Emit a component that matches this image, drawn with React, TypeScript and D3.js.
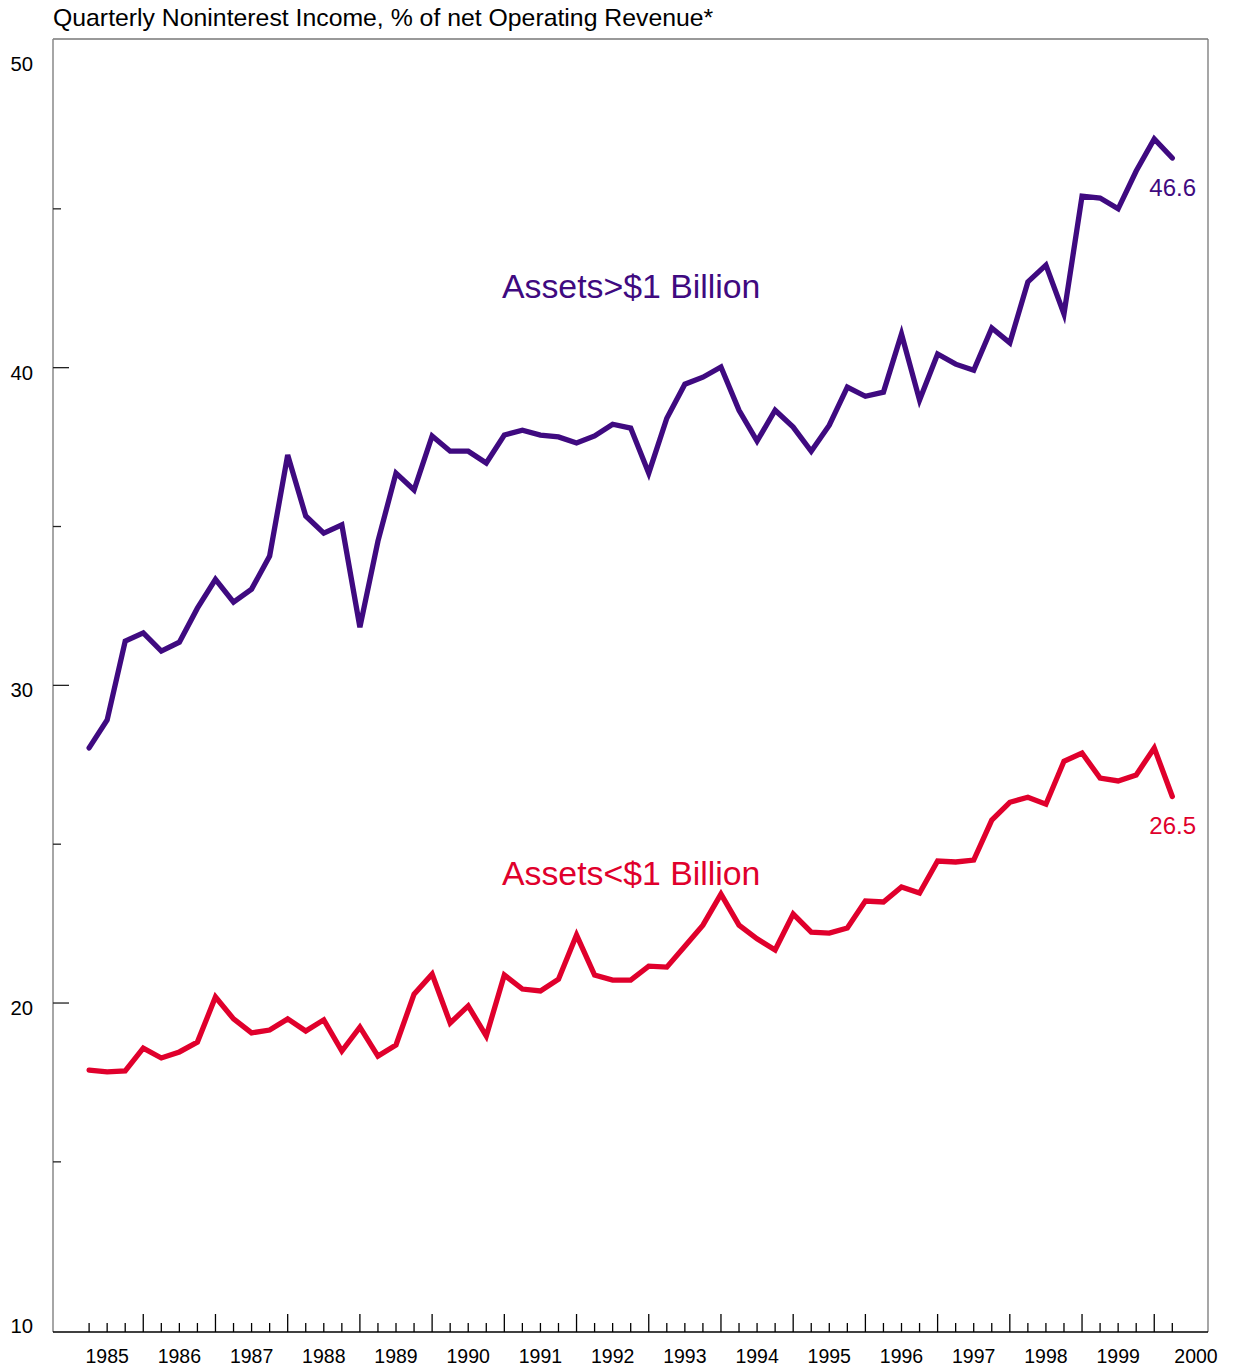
import React from "react";
import * as d3 from "d3";

const years = [1985, 1986, 1987, 1988, 1989, 1990, 1991, 1992, 1993, 1994, 1995, 1996, 1997, 1998, 1999, 2000];
const yTicksMajor = [10, 20, 30, 40, 50];
const yTicksMinor = [15, 25, 35, 45];

// Quarterly values, 1985Q1 .. 2000Q1
const largeBanks = [
  28.03, 28.91, 31.39, 31.65, 31.08, 31.36, 32.43, 33.34, 32.62, 33.03,
  34.07, 37.25, 35.33, 34.79, 35.05, 31.83, 34.54, 36.68, 36.15, 37.85,
  37.37, 37.37, 37.0, 37.88, 38.03, 37.88, 37.82, 37.63, 37.85, 38.22,
  38.1, 36.68, 38.41, 39.48, 39.7, 40.02, 38.66, 37.69, 38.66, 38.13,
  37.37, 38.19, 39.39, 39.1, 39.23, 41.06, 38.98, 40.43, 40.11, 39.92,
  41.25, 40.78, 42.7, 43.23, 41.69, 45.4, 45.34, 45.0, 46.19, 47.2, 46.6,
];
const smallBanks = [
  17.89, 17.83, 17.86, 18.58, 18.27, 18.46, 18.77, 20.19, 19.5, 19.06,
  19.15, 19.5, 19.12, 19.47, 18.49, 19.24, 18.33, 18.68, 20.28, 20.91,
  19.37, 19.91, 18.96, 20.88, 20.44, 20.38, 20.75, 22.14, 20.88, 20.72,
  20.72, 21.16, 21.13, 21.79, 22.45, 23.43, 22.45, 22.02, 21.67, 22.8,
  22.23, 22.2, 22.36, 23.21, 23.18, 23.65, 23.46, 24.47, 24.44, 24.5,
  25.76, 26.32, 26.48, 26.26, 27.61, 27.87, 27.08, 26.99, 27.18, 28.03, 26.5,
];

const PURPLE = "#3f0a80";
const RED = "#e0002c";
const FONT = "'Liberation Sans', Arial, Helvetica, sans-serif";

export default function App() {
  const W = 1234;
  const H = 1369;
  const left = 53;
  const right = 1208;
  const top = 39;
  const bottom = 1332;

  const x = d3.scaleLinear().domain([0, 60]).range([89.1, 1172.3]);
  const y = d3.scaleLinear().domain([10, 50]).range([1320.7, 50]);

  const line = d3
    .line<number>()
    .x((_, i) => x(i))
    .y((d) => y(d));

  const quarterTicks = d3.range(0, 61);

  return (
    <svg
      width={W}
      height={H}
      style={{ position: "absolute", left: 0, top: 0, background: "#fff" }}
      fontFamily={FONT}
    >
      <rect x={0} y={0} width={W} height={H} fill="#fff" />
      <text x={53} y={25.5} fontSize={24.8} fill="#000">
        Quarterly Noninterest Income, % of net Operating Revenue*
      </text>

      {/* frame */}
      <line x1={left} x2={right} y1={top} y2={top} stroke="#777" strokeWidth={1.3} />
      <line x1={right} x2={right} y1={top} y2={bottom} stroke="#777" strokeWidth={1.3} />
      <line x1={left} x2={left} y1={top} y2={bottom} stroke="#888" strokeWidth={1.5} />
      <line x1={left} x2={right} y1={bottom} y2={bottom} stroke="#000" strokeWidth={1.5} />

      {/* y ticks */}
      {yTicksMajor.map((t) => (
        <g key={"ym" + t}>
          {t > 10 && t < 50 && (
            <line x1={left} x2={left + 16} y1={y(t)} y2={y(t)} stroke="#222" strokeWidth={1.3} />
          )}
          <text
            x={33}
            y={t === 50 ? 71 : y(t) + 12}
            fontSize={20.3}
            textAnchor="end"
            fill="#000"
          >
            {t}
          </text>
        </g>
      ))}
      {yTicksMinor.map((t) => (
        <line key={"yn" + t} x1={left} x2={left + 8} y1={y(t)} y2={y(t)} stroke="#222" strokeWidth={1.3} />
      ))}

      {/* x ticks */}
      {quarterTicks.map((i) => (
        <line
          key={"xq" + i}
          x1={x(i)}
          x2={x(i)}
          y1={bottom}
          y2={i % 4 === 3 ? bottom - 18 : bottom - 9}
          stroke="#000"
          strokeWidth={1.3}
        />
      ))}
      {years.map((yr, k) => (
        <text
          key={"yl" + yr}
          x={yr === 2000 ? 1196 : x(k * 4 + 1)}
          y={1363}
          fontSize={19.5}
          textAnchor="middle"
          fill="#000"
        >
          {yr}
        </text>
      ))}

      {/* series */}
      <path d={line(largeBanks) || ""} fill="none" stroke={PURPLE} strokeWidth={5.3} strokeLinejoin="miter" strokeMiterlimit={4} strokeLinecap="round" />
      <path d={line(smallBanks) || ""} fill="none" stroke={RED} strokeWidth={5.3} strokeLinejoin="miter" strokeMiterlimit={4} strokeLinecap="round" />

      {/* labels */}
      <text x={502} y={298} fontSize={33.8} fill={PURPLE}>
        Assets&gt;$1 Billion
      </text>
      <text x={502} y={885} fontSize={33.8} fill={RED}>
        Assets&lt;$1 Billion
      </text>
      <text x={1196} y={196} fontSize={24} textAnchor="end" fill={PURPLE}>
        {d3.format(".1f")(largeBanks[largeBanks.length - 1])}
      </text>
      <text x={1196} y={834} fontSize={24} textAnchor="end" fill={RED}>
        {d3.format(".1f")(smallBanks[smallBanks.length - 1])}
      </text>
    </svg>
  );
}
